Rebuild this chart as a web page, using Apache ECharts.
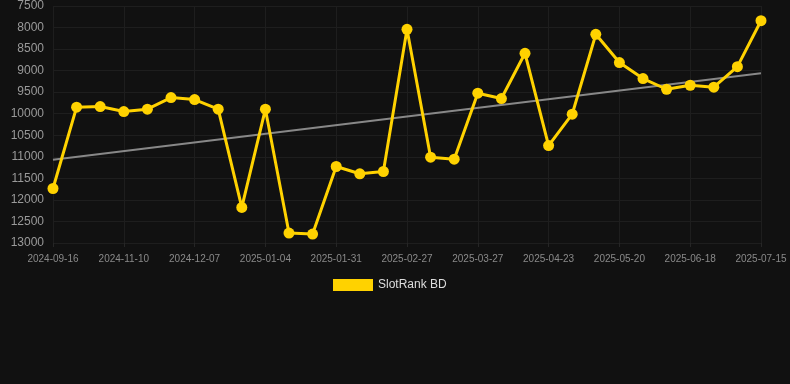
<!DOCTYPE html>
<html>
<head>
<meta charset="utf-8">
<script src="https://cdn.jsdelivr.net/npm/echarts@6/dist/echarts.min.js"></script>
<style>
  html, body { margin: 0; padding: 0; background: #111111; }
  #chart { width: 790px; height: 384px; }
</style>
</head>
<body>
<div id="chart"></div>
<script>
var dates = ['2024-09-16','2024-10-22','2024-11-01','2024-11-10','2024-11-19','2024-11-28',
    '2024-12-07','2024-12-16','2024-12-25','2025-01-04','2025-01-13','2025-01-22',
    '2025-01-31','2025-02-09','2025-02-18','2025-02-27','2025-03-08','2025-03-18',
    '2025-03-27','2025-04-05','2025-04-14','2025-04-23','2025-05-02','2025-05-11',
    '2025-05-20','2025-05-29','2025-06-08','2025-06-18','2025-06-27','2025-07-06','2025-07-15'];
var ranks = [11735, 9848, 9834, 9950, 9895, 9625, 9671, 9895, 12175, 9895, 12769, 12792,
    11225, 11394, 11341, 8041, 11008, 11054, 9524, 9648, 8597, 10738, 10011, 8157,
    8813, 9185, 9432, 9339, 9385, 8907, 7841];
var trendEnds = [11070, 9060];
var yTicks = { min: 7500, max: 13000, step: 500 };

var trend = dates.map(function (d, i) {
    if (i === 0) return trendEnds[0];
    if (i === dates.length - 1) return trendEnds[1];
    return null;
});

var myChart = echarts.init(document.getElementById('chart'));
myChart.setOption({
    backgroundColor: '#111111',
    animation: false,
    grid: { left: 53, right: 29, top: 6, bottom: 141 },
    legend: {
        bottom: 88,
        left: 328,
        itemWidth: 40,
        itemHeight: 12,
        data: [{ name: 'SlotRank BD', icon: 'rect' }],
        textStyle: { color: '#dddddd', fontSize: 12 }
    },
    xAxis: {
        type: 'category',
        data: dates,
        boundaryGap: false,
        axisLine: { show: false },
        axisTick: { show: true, interval: 2, length: 4, lineStyle: { color: '#262626' } },
        axisLabel: { interval: 2, color: '#8a8a8a', fontSize: 10, margin: 11 },
        splitLine: { show: true, interval: 2, lineStyle: { color: '#1e1e1e' } }
    },
    yAxis: {
        type: 'value',
        inverse: true,
        min: yTicks.min,
        max: yTicks.max,
        interval: yTicks.step,
        axisLine: { show: false },
        axisTick: { show: false },
        axisLabel: {
            color: '#9a9a9a', fontSize: 12, margin: 9,
            formatter: function (v) { return String(v); }
        },
        splitLine: { lineStyle: { color: '#1e1e1e' } }
    },
    series: [{
        name: 'SlotRank BD',
        type: 'line',
        data: ranks,
        itemStyle: { color: '#FFD200' },
        lineStyle: { color: '#FFD200', width: 3 },
        symbol: 'circle',
        symbolSize: 11,
        z: 3
    }, {
        name: 'trend',
        type: 'line',
        data: trend,
        connectNulls: true,
        symbol: 'none',
        lineStyle: { color: '#888888', width: 2 },
        z: 2
    }]
});
</script>
</body>
</html>
